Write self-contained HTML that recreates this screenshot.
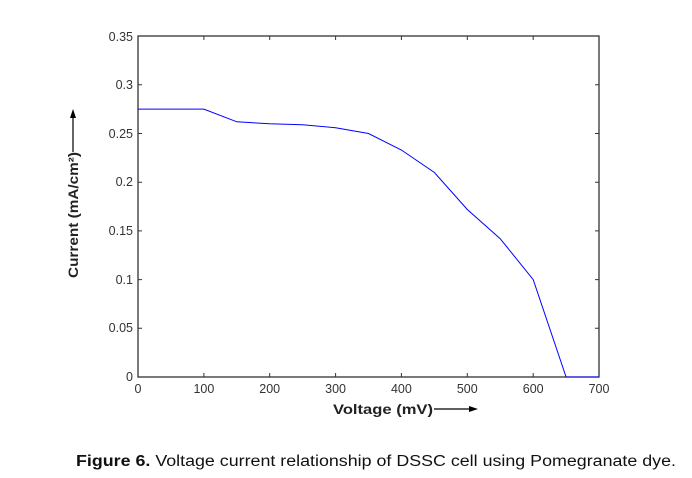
<!DOCTYPE html>
<html><head><style>body{margin:0;background:#fff}svg{display:block}</style></head><body>
<svg width="692" height="478" xmlns="http://www.w3.org/2000/svg" font-family="Liberation Sans, sans-serif">
<rect width="692" height="478" fill="#fff"/>
<g stroke="#333" stroke-width="1.3" fill="none">
<rect x="138" y="36" width="461" height="341"/>
</g>
<g stroke="#333" stroke-width="1">
<path d="M203.9,377v-4M269.7,377v-4M335.6,377v-4M401.4,377v-4M467.3,377v-4M533.2,377v-4
M203.9,36v4M269.7,36v4M335.6,36v4M401.4,36v4M467.3,36v4M533.2,36v4
M138,328.3h4M138,279.6h4M138,230.9h4M138,182.2h4M138,133.5h4M138,84.8h4
M599,328.3h-4M599,279.6h-4M599,230.9h-4M599,182.2h-4M599,133.5h-4M599,84.8h-4"/>
</g>
<polyline fill="none" stroke="#0000ff" stroke-width="1" points="138,109.1 203.9,109.1 236.8,121.8 269.7,123.8 302.6,124.7 335.6,127.7 368.5,133.5 401.4,150 434.4,172.5 467.3,209.5 500.2,238.7 533.2,279.6 566.1,377 599,377"/>
<g font-size="12.5" fill="#333" text-anchor="end">
<text x="133" y="381">0</text><text x="133" y="332">0.05</text><text x="133" y="284">0.1</text>
<text x="133" y="235">0.15</text><text x="133" y="186">0.2</text><text x="133" y="138">0.25</text>
<text x="133" y="89">0.3</text><text x="133" y="41">0.35</text>
</g>
<g font-size="12.5" fill="#333" text-anchor="middle">
<text x="138" y="393">0</text><text x="203.9" y="393">100</text><text x="269.7" y="393">200</text>
<text x="335.6" y="393">300</text><text x="401.4" y="393">400</text><text x="467.3" y="393">500</text>
<text x="533.2" y="393">600</text><text x="599" y="393">700</text>
</g>
<text x="333" y="414" font-size="14" font-weight="bold" fill="#222" textLength="100" lengthAdjust="spacingAndGlyphs">Voltage (mV)</text>
<line x1="434" y1="409" x2="470" y2="409" stroke="#000" stroke-width="1.2"/>
<polygon points="478,409 469,406 469,412" fill="#000"/>
<text transform="translate(78,278) rotate(-90)" font-size="14" font-weight="bold" fill="#222" textLength="126" lengthAdjust="spacingAndGlyphs">Current (mA/cm²)</text>
<line x1="73" y1="152" x2="73" y2="117" stroke="#000" stroke-width="1.2"/>
<polygon points="73,109 70,118 76,118" fill="#000"/>
<text x="76" y="466" font-size="15.5" fill="#111" textLength="600" lengthAdjust="spacingAndGlyphs"><tspan font-weight="bold">Figure 6.</tspan> Voltage current relationship of DSSC cell using Pomegranate dye.</text>
</svg>
</body></html>
